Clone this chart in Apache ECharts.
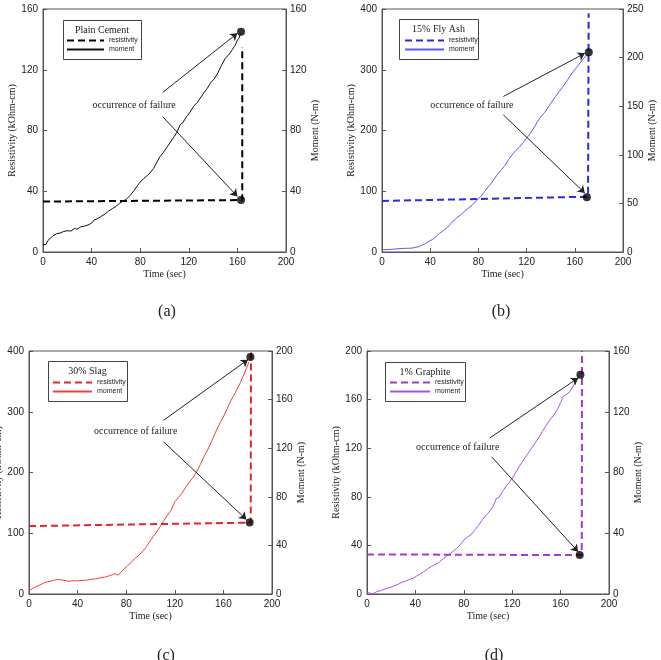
<!DOCTYPE html>
<html>
<head>
<meta charset="utf-8">
<script src="https://cdn.jsdelivr.net/npm/echarts@6/dist/echarts.min.js"></script>
<style>
html,body{margin:0;padding:0;background:#fff;}
#main{width:661px;height:660px;}
</style>
</head>
<body>
<div id="main"></div>
<script>
// (a) Plain Cement
var momTimeA = [0,1.5,2.5,4,6,8,11,14,17,20,23,26,28,31,34,37,40,42,45,48,51,54,57,60,63,66,69,72,75,78,80,83,86,88,91,93,96,99,102,105,108,110,113,115,118,121,124,127,130,133,135,138,141,144,147,150,153,156,158,160,161.5,162.5];
var momA = [4.8,5.5,5,7.5,9,10.5,12,12.5,13.5,14,13.8,15.5,15,16.5,17,17.8,19,21,22,23.5,25,27,28.5,30,32,33.5,35,37.5,40.5,44,46,48.5,50.5,52,55,58,62.5,65.5,69,72.5,76,78.5,84,85,89,92,96,98.5,102,105.5,107.5,111.5,114,118,123,127.5,130,133.5,136,139.5,141,144];
var resTimeA = [0,164,164];
var resA = [33.2,34.2,135];
var failTopA = [163,145];
var failBotA = [163,34.2];
var arrowA = [[98.4,105,160,144],[98.4,89.2,160,36.6]];
var noteA = [75,96.7];

// (b) 15% Fly Ash
var momTimeB = [0,5,10,15,20,25,28,30,33,36,39,42,45,48,51,54,57,60,63,66,69,72,75,78,80,82,85,88,90,93,96,99,102,105,108,111,114,117,120,123,126,129,132,135,138,141,144,147,150,153,156,159,162,165,168,170];
var momB = [2.4,2.5,3,3.5,3.8,4,5,5.2,7,8.5,11,13,16,19.5,22,25,29,33,36,39,42.5,45.5,48.5,52,55,57,62,67,69.5,75,80,84.5,89,95,100,104.5,108,112.5,117,122,127.5,134,139.5,143.5,149,154.5,160,165,170,175,181,186,190.5,195.5,200,203];
var resTimeB = [0,171,171.5];
var resB = [84,91,393];
var failTopB = [171.6,205.5];
var failBotB = [170,90];
var arrowB = [[100.7,256,168.3,327],[100.7,225.8,168.3,97]];
var noteB = [74.5,241.6];

// (c) 30% Slag
var momTimeC = [0,3,6,9,12,15,18,21,24,27,30,33,36,39,42,45,48,51,54,57,60,63,66,69,71,73,75,78,81,84,87,90,93,96,99,102,105,108,111,114,117,120,123,126,129,132,135,138,141,144,147,150,153,156,159,162,165,168,171,174,177,179,181];
var momC = [2.7,4.5,6,7.5,9,10,10.5,11.5,12,11.5,11,10.5,11,10.8,11,11.2,11.5,12,12.3,12.8,13.5,14,15,16,16.8,15.5,17,20.5,23,26,29,31.5,34.5,38,42.5,47,51,55.5,60.5,65,69,76,79.5,83,88,92,96,100.5,106.5,113,118.5,125,132,138.5,144,150,157,162.5,168,174,181,186,191];
var resTimeC = [0,182.5,182.7];
var resC = [111.8,117.5,400];
var failTopC = [182.2,195];
var failBotC = [181.6,117.8];
var arrowC = [[110.8,286,180.2,385.8],[110.8,250.4,178.9,122.7]];
var noteC = [87.8,268];

// (d) 1% Graphite
var momTimeD = [0,2,4,6,8,11,14,17,20,23,26,29,32,35,38,41,44,47,50,53,56,59,62,65,68,71,74,77,80,83,86,89,92,95,98,101,104,107,109,112,115,118,121,124,127,130,133,136,139,142,145,148,151,154,157,160,162,165,168,171,173,175];
var momD = [0.5,0.8,0,0.5,1.5,2.2,3,3.8,4.5,5.5,6.5,7.8,8.5,9.5,10.3,11.8,13.2,14.7,16.5,18,19.3,20.5,22.5,24.5,26.2,28,30,32.5,35.5,37.5,39,42,45,48.5,51.5,54,57.5,63,63.5,67.5,71,74,77.5,81.5,85.5,89,92.5,96,99.5,103,107,111,114.5,117.5,121,126,130,131.5,133.5,138,140.5,143];
var resTimeD = [0,177.5,177.7];
var resD = [32.6,32,200];
var failTopD = [176.4,144.4];
var failBotD = [175.8,32];
var arrowD = [[101.6,128.5,174.5,177.8],[103,112.9,174.5,34.8]];
var noteD = [75,121];

function zip(xs, ys) {
    return xs.map(function (x, i) { return [x, ys[i]]; });
}

var panels = [
    {grid:{left:43,top:9,width:243,height:243}, left:[0,160,40], right:[0,160,40],
     dash:'#000000', solid:'#111111', title:'Plain Cement', box:[63,20,78,39], leg:[66,37], lw:37,
     label:'(a)', lab:[167,312], mt:momTimeA, m:momA, rt:resTimeA, r:resA,
     top:failTopA, bot:failBotA, arrows:arrowA, note:noteA},
    {grid:{left:382,top:9,width:241,height:243}, left:[0,400,100], right:[0,250,50],
     dash:'#2b2bd9', solid:'#5a5af0', title:'15% Fly Ash', box:[399,19,79,40], leg:[404,37], lw:39,
     label:'(b)', lab:[501,312], mt:momTimeB, m:momB, rt:resTimeB, r:resB,
     top:failTopB, bot:failBotB, arrows:arrowB, note:noteB},
    {grid:{left:29,top:351,width:243,height:243}, left:[0,400,100], right:[0,200,40],
     dash:'#e02828', solid:'#ee4040', title:'30% Slag', box:[48,361,79,40], leg:[52,379], lw:39,
     label:'(c)', lab:[166,656], mt:momTimeC, m:momC, rt:resTimeC, r:resC,
     top:failTopC, bot:failBotC, arrows:arrowC, note:noteC},
    {grid:{left:367,top:351,width:242,height:243}, left:[0,200,40], right:[0,160,40],
     dash:'#a03cd0', solid:'#b050e0', title:'1% Graphite', box:[385,362,80,39], leg:[389,379], lw:40,
     label:'(d)', lab:[494,656], mt:momTimeD, m:momD, rt:resTimeD, r:resD,
     top:failTopD, bot:failBotD, arrows:arrowD, note:noteD}
];

var axisColor = '#555';
var textColor = '#222';
var grids = [], xAxes = [], yAxes = [], series = [], legends = [], graphics = [];

panels.forEach(function (p, i) {
    grids.push({left:p.grid.left, top:p.grid.top, width:p.grid.width, height:p.grid.height,
        show:true, borderColor:axisColor, borderWidth:1, backgroundColor:'transparent',
        outerBoundsMode:'none'});
    xAxes.push({
        gridIndex:i, type:'value', min:0, max:200, interval:40,
        name:'Time (sec)', nameLocation:'middle', nameGap:17,
        nameTextStyle:{fontFamily:'Liberation Serif', fontSize:10, color:textColor},
        axisLine:{lineStyle:{color:axisColor}},
        axisTick:{inside:true, length:4, lineStyle:{color:axisColor}},
        axisLabel:{fontFamily:'Liberation Sans', fontSize:10, color:textColor, margin:5},
        splitLine:{show:false}
    });
    yAxes.push({
        gridIndex:i, type:'value', position:'left', min:p.left[0], max:p.left[1], interval:p.left[2],
        name:'Resistivity (kOhm-cm)', nameLocation:'middle', nameGap:24, nameRotate:90,
        nameTextStyle:{fontFamily:'Liberation Serif', fontSize:10, color:textColor},
        axisLine:{show:true, lineStyle:{color:axisColor}},
        axisTick:{show:true, inside:true, length:4, lineStyle:{color:axisColor}},
        axisLabel:{fontFamily:'Liberation Sans', fontSize:10, color:textColor, margin:5},
        splitLine:{show:false}
    });
    yAxes.push({
        gridIndex:i, type:'value', position:'right', min:p.right[0], max:p.right[1], interval:p.right[2],
        name:'Moment (N-m)', nameLocation:'middle', nameGap:24, nameRotate:90,
        nameTextStyle:{fontFamily:'Liberation Serif', fontSize:10, color:textColor},
        axisLine:{show:true, lineStyle:{color:axisColor}},
        axisTick:{show:true, inside:true, length:4, lineStyle:{color:axisColor}},
        axisLabel:{fontFamily:'Liberation Sans', fontSize:10, color:textColor, margin:4},
        splitLine:{show:false}
    });

    series.push({
        name:'resistivity_' + i, type:'line', xAxisIndex:i, yAxisIndex:2 * i,
        data:zip(p.rt, p.r), symbol:'none', z:3,
        lineStyle:{color:p.dash, width:2, type:[7, 4]}, itemStyle:{color:p.dash},
        markLine:{
            silent:true, symbol:['none', 'arrow'], symbolSize:7, animation:false,
            lineStyle:{color:'#222', width:1, type:'solid'}, label:{show:false},
            data:p.arrows.map(function (a) { return [{coord:[a[0], a[1]]}, {coord:[a[2], a[3]]}]; })
        },
        markPoint:{
            silent:true, symbol:'circle', symbolSize:1, animation:false,
            itemStyle:{color:'rgba(0,0,0,0)'},
            label:{show:true, position:'inside', formatter:'occurrence of failure',
                fontFamily:'Liberation Serif', fontSize:10, color:textColor},
            data:[{coord:p.note, value:0}]
        }
    });
    series.push({
        name:'moment_' + i, type:'line', xAxisIndex:i, yAxisIndex:2 * i + 1,
        data:zip(p.mt, p.m), symbol:'none', z:2,
        lineStyle:{color:p.solid, width:1}, itemStyle:{color:p.solid}
    });
    series.push({
        type:'scatter', xAxisIndex:i, yAxisIndex:2 * i + 1, data:[p.top],
        symbolSize:8, itemStyle:{color:'#000'}, z:5
    });
    series.push({
        type:'scatter', xAxisIndex:i, yAxisIndex:2 * i, data:[p.bot],
        symbolSize:8, itemStyle:{color:'#000'}, z:5
    });

    legends.push({
        data:['resistivity_' + i, 'moment_' + i], orient:'vertical',
        left:p.leg[0], top:p.leg[1], itemWidth:p.lw, itemHeight:8, itemGap:2, padding:0,
        selectedMode:false,
        itemStyle:{opacity:0},
        formatter:function (name) { return name.split('_')[0]; },
        textStyle:{fontFamily:'Liberation Sans', fontSize:7, color:textColor}
    });

    graphics.push({
        type:'rect', silent:true,
        shape:{x:p.box[0] + 0.5, y:p.box[1] + 0.5, width:p.box[2], height:p.box[3]},
        style:{fill:'#fff', stroke:'#444', lineWidth:1}, z:1
    });
    graphics.push({
        type:'text', silent:true, x:p.box[0] + p.box[2] / 2, y:p.box[1] + 10, z:2,
        style:{text:p.title, font:'10px "Liberation Serif"', fill:textColor,
            textAlign:'center', textVerticalAlign:'middle', align:'center', verticalAlign:'middle'}
    });
    graphics.push({
        type:'text', silent:true, x:p.lab[0], y:p.lab[1], z:2,
        style:{text:p.label, font:'16px "Liberation Serif"', fill:textColor,
            textAlign:'center', textVerticalAlign:'middle', align:'center', verticalAlign:'middle'}
    });
});

var myChart = echarts.init(document.getElementById('main'));
myChart.setOption({
    animation:false,
    backgroundColor:'#fff',
    grid:grids,
    xAxis:xAxes,
    yAxis:yAxes,
    legend:legends,
    graphic:graphics,
    series:series
});
</script>
</body>
</html>
